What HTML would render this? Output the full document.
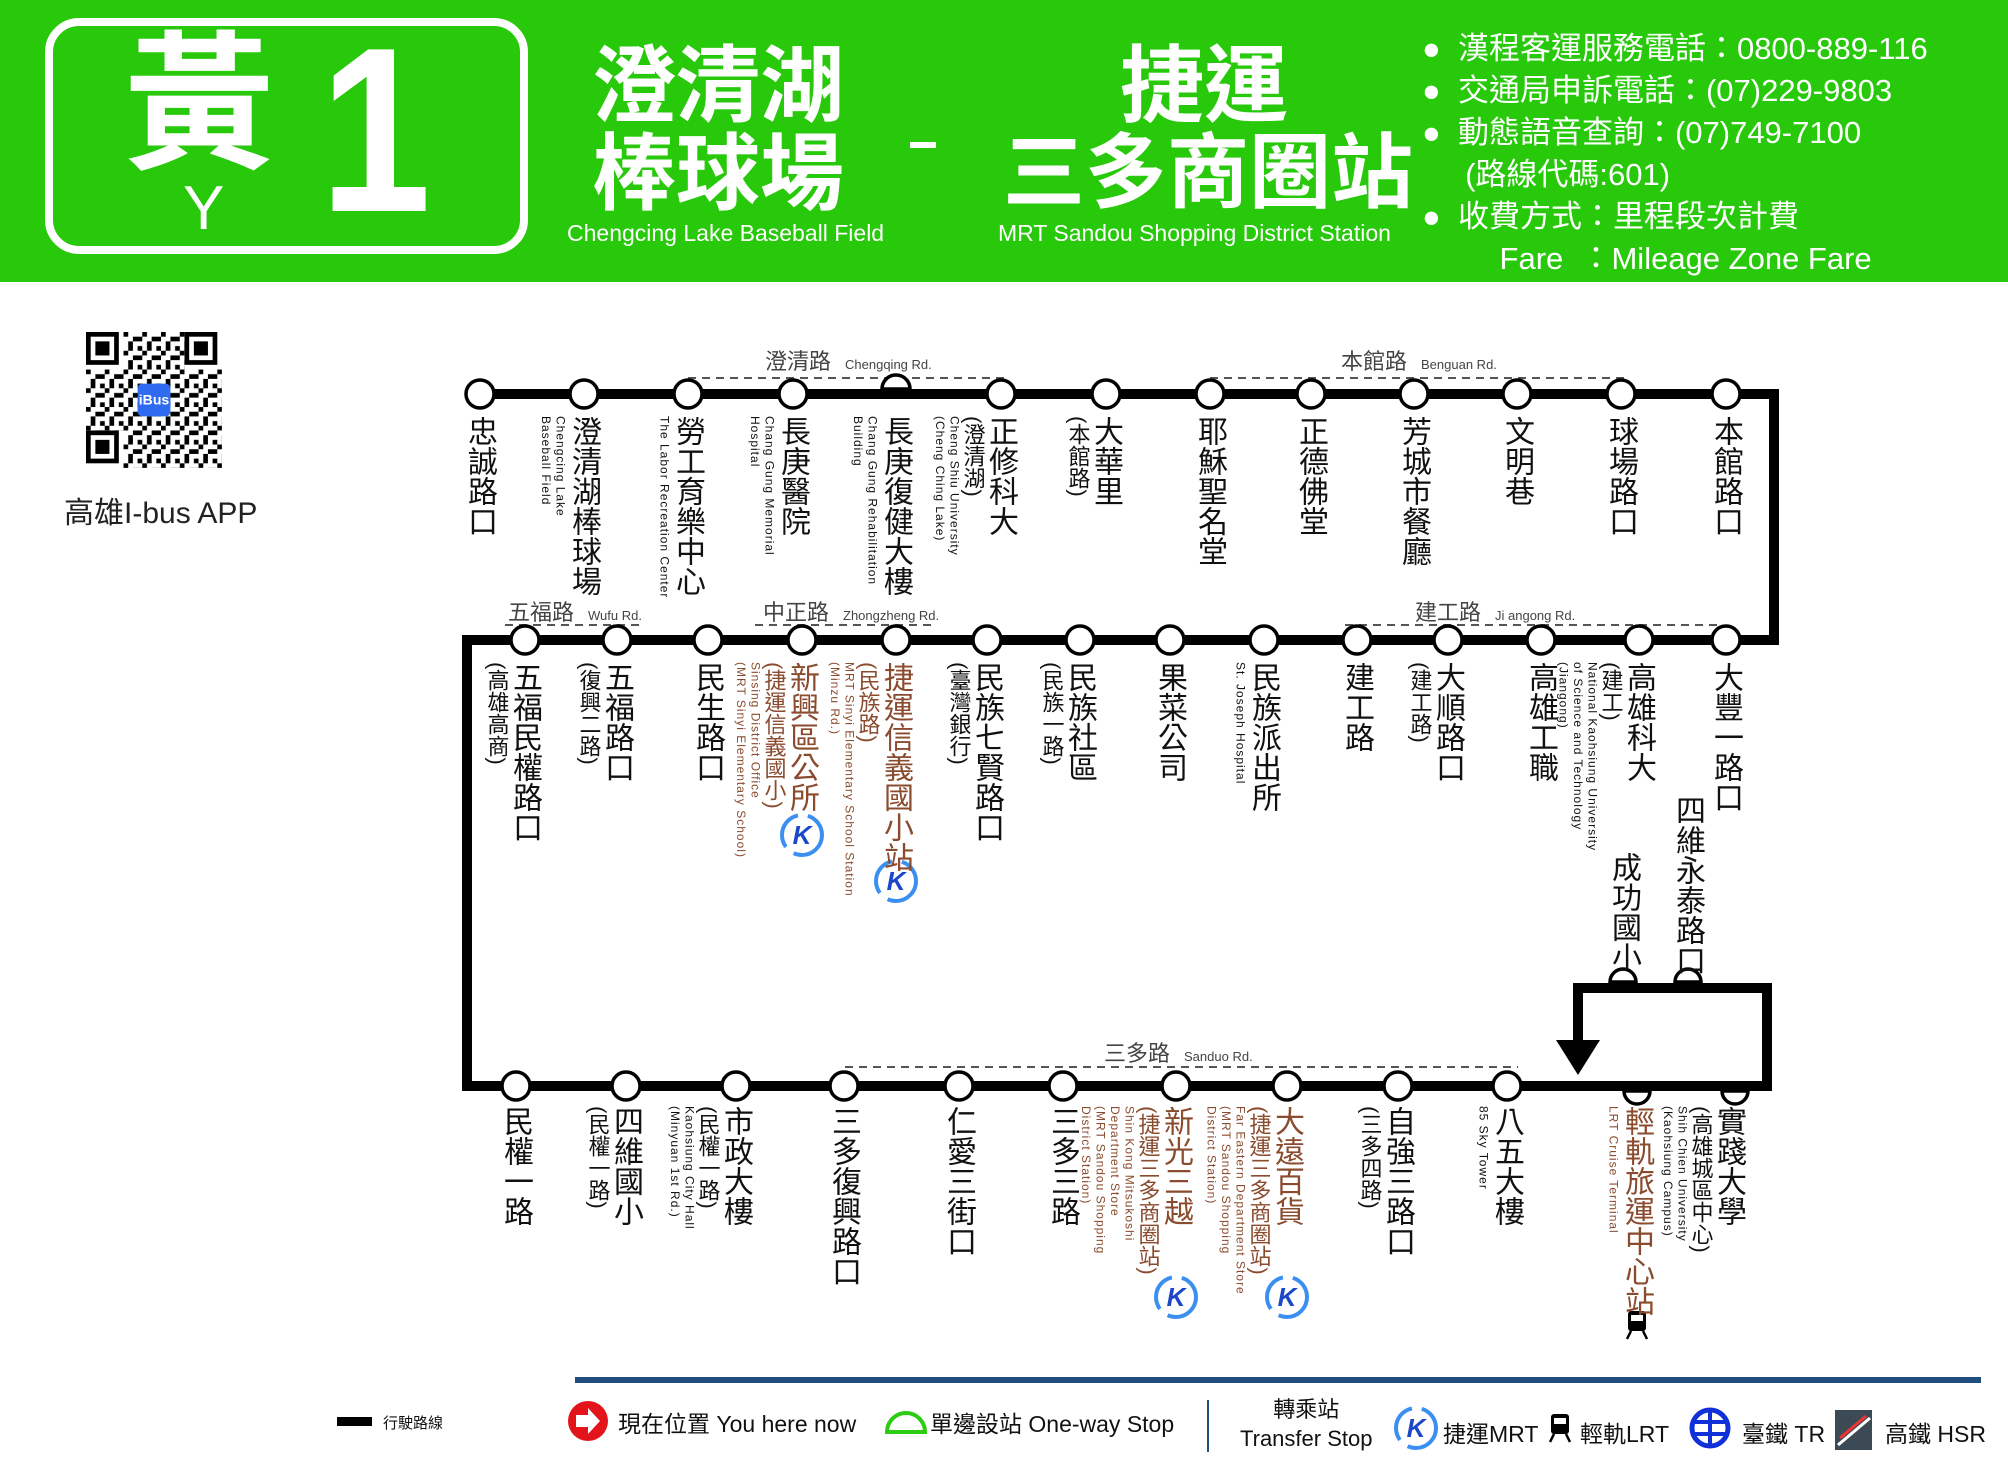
<!DOCTYPE html>
<html><head><meta charset="utf-8">
<style>
*{margin:0;padding:0;box-sizing:border-box}
body{width:2008px;height:1476px;background:#fff;position:relative;overflow:hidden;font-family:"Liberation Sans","Noto Sans CJK TC",sans-serif;color:#111}
.a{position:absolute;white-space:nowrap}
.v{position:absolute;writing-mode:vertical-rl;transform:translateX(-100%);white-space:nowrap;display:block}
.v>div{display:block;line-height:1.05}
.m{font-size:30px}
.s{font-size:22px}
.e{font-size:12px;letter-spacing:1px;line-height:1.2!important}
.br{color:#8a4b2e}
.rd{font-size:22px;color:#444}
.rd small{font-size:13px;margin-left:14px}
</style></head><body>
<!-- header -->
<div class="a" style="left:0;top:0;width:2008px;height:282px;background:#27c90a"></div>
<div class="a" style="left:45px;top:18px;width:483px;height:236px;border:8px solid #fff;border-radius:34px"></div>
<div class="a" style="left:124px;top:30px;font-size:150px;font-weight:bold;color:#fff;line-height:1">黃</div>
<div class="a" style="left:183px;top:178px;font-size:62px;color:#fff;line-height:1">Y</div>
<div class="a" style="left:320px;top:12px;font-size:235px;font-weight:bold;color:#fff;line-height:1;font-family:'Liberation Sans',sans-serif;transform:scaleX(0.85);transform-origin:left top">1</div>
<div class="a" style="left:592px;top:42px;font-size:84px;font-weight:bold;color:#fff;line-height:88px">澄清湖<br>棒球場</div>
<div class="a" style="left:567px;top:220px;font-size:23px;color:#fff">Chengcing Lake Baseball Field</div>
<div class="a" style="left:910px;top:142px;width:26px;height:6px;background:#fff"></div>
<div class="a" style="left:1120px;top:42px;font-size:84px;font-weight:bold;color:#fff;line-height:88px">捷運</div>
<div class="a" style="left:1003px;top:130px;font-size:82px;font-weight:bold;color:#fff;line-height:88px">三多商圈站</div>
<div class="a" style="left:998px;top:220px;font-size:23px;color:#fff">MRT Sandou Shopping District Station</div>
<div class="a" style="left:1422px;top:28px;font-size:31px;color:#fff;line-height:42px">
●&nbsp;&nbsp;漢程客運服務電話：0800-889-116<br>●&nbsp;&nbsp;交通局申訴電話：(07)229-9803<br>●&nbsp;&nbsp;動態語音查詢：(07)749-7100<br>&nbsp;&nbsp;&nbsp;&nbsp;&nbsp;(路線代碼:601)<br>●&nbsp;&nbsp;收費方式：里程段次計費<br>&nbsp;&nbsp;&nbsp;&nbsp;&nbsp;&nbsp;&nbsp;&nbsp;&nbsp;Fare &nbsp;：Mileage Zone Fare</div>

<!-- QR -->
<svg class="a" style="left:83px;top:332px" width="142" height="136" viewBox="0 0 29 29">
<defs><pattern id="q" width="4" height="4" patternUnits="userSpaceOnUse"><rect width="1" height="1"/><rect x="2" y="1" width="2" height="1"/><rect x="1" y="2" width="1" height="2"/><rect x="3" y="3" width="1" height="1"/></pattern></defs>
<rect width="29" height="29" fill="url(#q)"/>
<g fill="#fff"><rect width="8" height="8"/><rect x="21" width="8" height="8"/><rect y="21" width="8" height="8"/></g>
<g fill="none" stroke="#000"><rect x=".5" y=".5" width="6" height="6"/><rect x="21.5" y=".5" width="6" height="6"/><rect x=".5" y="21.5" width="6" height="6"/></g>
<g><rect x="2" y="2" width="3" height="3"/><rect x="23" y="2" width="3" height="3"/><rect x="2" y="23" width="3" height="3"/></g>
<rect x="11" y="11" width="7" height="7" rx="1" fill="#2f6bf0"/><text x="14.5" y="15.5" font-size="3" fill="#fff" text-anchor="middle" font-weight="bold">iBus</text>
</svg>
<div class="a" style="left:64px;top:488px;font-size:30px;color:#222">高雄I-bus APP</div>

<!-- route lines -->
<svg class="a" style="left:0;top:0" width="2008" height="1476">
<defs>
<g id="k">
<circle cx="0" cy="0" r="20" fill="none" stroke="#3a8ff0" stroke-width="4" stroke-dasharray="40,10"/>
<text x="0" y="9" font-size="26" font-weight="bold" font-style="italic" fill="#1b47c8" text-anchor="middle" font-family="Liberation Sans">K</text>
</g>
<g id="t"><rect x="-9" y="-14" width="18" height="20" rx="3" fill="#000"/><rect x="-6" y="-10" width="12" height="6" fill="#fff"/><line x1="-6" y1="6" x2="-10" y2="14" stroke="#000" stroke-width="2.5"/><line x1="6" y1="6" x2="10" y2="14" stroke="#000" stroke-width="2.5"/></g>
</defs>
<g fill="none" stroke="#000" stroke-width="10">
<polyline points="480,394 1774,394 1774,640 467,640 467,1086 1767,1086 1767,988 1578,988 1578,1045"/>
</g>
<polygon points="1556,1040 1600,1040 1578,1075" fill="#000"/>
<g stroke="#555" stroke-width="2" stroke-dasharray="8,6">
<line x1="688" y1="378" x2="1005" y2="378"/><line x1="1210" y1="378" x2="1626" y2="378"/>
<line x1="505" y1="625" x2="640" y2="625"/><line x1="755" y1="625" x2="935" y2="625"/><line x1="1345" y1="625" x2="1722" y2="625"/>
<line x1="845" y1="1067" x2="1518" y2="1067"/>
</g>
<g fill="#fff" stroke="#000" stroke-width="3.5">
<circle cx="480" cy="394" r="14"/><circle cx="584" cy="394" r="14"/><circle cx="688" cy="394" r="14"/><circle cx="793" cy="394" r="14"/><circle cx="1001" cy="394" r="14"/><circle cx="1106" cy="394" r="14"/><circle cx="1210" cy="394" r="14"/><circle cx="1311" cy="394" r="14"/><circle cx="1414" cy="394" r="14"/><circle cx="1517" cy="394" r="14"/><circle cx="1621" cy="394" r="14"/><circle cx="1726" cy="394" r="14"/>
<path d="M882,389 A14,14 0 0 1 910,389 Z"/>
<circle cx="525" cy="640" r="14"/><circle cx="617" cy="640" r="14"/><circle cx="708" cy="640" r="14"/><circle cx="802" cy="640" r="14"/><circle cx="896" cy="640" r="14"/><circle cx="987" cy="640" r="14"/><circle cx="1080" cy="640" r="14"/><circle cx="1170" cy="640" r="14"/><circle cx="1264" cy="640" r="14"/><circle cx="1357" cy="640" r="14"/><circle cx="1448" cy="640" r="14"/><circle cx="1541" cy="640" r="14"/><circle cx="1639" cy="640" r="14"/><circle cx="1726" cy="640" r="14"/>
<circle cx="516" cy="1086" r="14"/><circle cx="626" cy="1086" r="14"/><circle cx="736" cy="1086" r="14"/><circle cx="844" cy="1086" r="14"/><circle cx="959" cy="1086" r="14"/><circle cx="1063" cy="1086" r="14"/><circle cx="1176" cy="1086" r="14"/><circle cx="1287" cy="1086" r="14"/><circle cx="1398" cy="1086" r="14"/><circle cx="1507" cy="1086" r="14"/>
<path d="M1610,982 A13,13 0 0 1 1636,982 Z"/><path d="M1675,982 A13,13 0 0 1 1701,982 Z"/>
<path d="M1624,1091 A13,13 0 0 0 1650,1091 Z"/><path d="M1722,1091 A13,13 0 0 0 1748,1091 Z"/>
</g>
<use href="#k" x="802" y="835"/><use href="#k" x="896" y="881"/><use href="#k" x="1176" y="1297"/><use href="#k" x="1287" y="1297"/>
<use href="#t" x="1637" y="1325"/>
<!-- legend -->
<line x1="575" y1="1380" x2="1981" y2="1380" stroke="#1f4e7e" stroke-width="6"/>
<rect x="337" y="1417" width="35" height="9" fill="#000"/>
<circle cx="588" cy="1421" r="20" fill="#e3141b"/><polygon points="576,1415 588,1415 588,1408 600,1421 588,1434 588,1427 576,1427" fill="#fff"/>
<path d="M887,1432 A19,19 0 0 1 925,1432 Z" fill="none" stroke="#2ccc10" stroke-width="4"/>
<line x1="1208" y1="1400" x2="1208" y2="1452" stroke="#1f4e7e" stroke-width="2"/>
<use href="#k" x="1416" y="1428"/>
<use href="#t" x="1560" y="1428"/>
<circle cx="1710" cy="1428" r="18" fill="none" stroke="#1030d8" stroke-width="5"/><path d="M1694,1422 H1726 M1694,1434 H1726 M1710,1412 V1446" stroke="#1030d8" stroke-width="4"/>
<rect x="1835" y="1410" width="37" height="40" fill="#3b4a55"/><path d="M1838,1445 L1870,1418" stroke="#fff" stroke-width="3"/><path d="M1840,1438 L1866,1416" stroke="#e33" stroke-width="3"/>
</svg>
<div class="a" style="left:383px;top:1412px;font-size:15px">行駛路線</div>
<div class="a" style="left:618px;top:1405px;font-size:23px">現在位置 You here now</div>
<div class="a" style="left:930px;top:1405px;font-size:23px">單邊設站 One-way Stop</div>
<div class="a" style="left:1240px;top:1395px;font-size:22px;text-align:center;line-height:29px">轉乘站<br>Transfer Stop</div>
<div class="a" style="left:1443px;top:1415px;font-size:23px">捷運MRT</div>
<div class="a" style="left:1580px;top:1415px;font-size:23px">輕軌LRT</div>
<div class="a" style="left:1742px;top:1415px;font-size:23px">臺鐵 TR</div>
<div class="a" style="left:1885px;top:1415px;font-size:23px">高鐵 HSR</div>

<!-- road labels -->
<div class="a rd" style="left:765px;top:344px">澄清路<small>Chengqing Rd.</small></div>
<div class="a rd" style="left:1341px;top:344px">本館路<small>Benguan Rd.</small></div>
<div class="a rd" style="left:508px;top:595px">五福路<small>Wufu Rd.</small></div>
<div class="a rd" style="left:763px;top:595px">中正路<small>Zhongzheng Rd.</small></div>
<div class="a rd" style="left:1415px;top:595px">建工路<small>Ji angong Rd.</small></div>
<div class="a rd" style="left:1104px;top:1036px">三多路<small>Sanduo Rd.</small></div>

<!-- row1 -->
<div class="v" style="left:495px;top:416px"><div class="m">忠誠路口</div></div>
<div class="v" style="left:599px;top:416px"><div class="m">澄清湖棒球場</div><div class="e">Chengcing Lake<br>Baseball Field</div></div>
<div class="v" style="left:703px;top:416px"><div class="m">勞工育樂中心</div><div class="e">The Labor Recreation Center</div></div>
<div class="v" style="left:808px;top:416px"><div class="m">長庚醫院</div><div class="e">Chang Gung Memorial<br>Hospital</div></div>
<div class="v" style="left:911px;top:416px"><div class="m">長庚復健大樓</div><div class="e">Chang Gung Rehabilitation<br>Building</div></div>
<div class="v" style="left:1016px;top:416px"><div class="m">正修科大</div><div class="s">(澄清湖)</div><div class="e">Cheng Shiu University<br>(Cheng Ching Lake)</div></div>
<div class="v" style="left:1121px;top:416px"><div class="m">大華里</div><div class="s">(本館路)</div></div>
<div class="v" style="left:1225px;top:416px"><div class="m">耶穌聖名堂</div></div>
<div class="v" style="left:1326px;top:416px"><div class="m">正德佛堂</div></div>
<div class="v" style="left:1429px;top:416px"><div class="m">芳城市餐廳</div></div>
<div class="v" style="left:1532px;top:416px"><div class="m">文明巷</div></div>
<div class="v" style="left:1636px;top:416px"><div class="m">球場路口</div></div>
<div class="v" style="left:1741px;top:416px"><div class="m">本館路口</div></div>

<!-- row2 -->
<div class="v" style="left:540px;top:662px"><div class="m">五福民權路口</div><div class="s">(高雄高商)</div></div>
<div class="v" style="left:632px;top:662px"><div class="m">五福路口</div><div class="s">(復興二路)</div></div>
<div class="v" style="left:723px;top:662px"><div class="m">民生路口</div></div>
<div class="v br" style="left:817px;top:662px"><div class="m">新興區公所</div><div class="s">(捷運信義國小)</div><div class="e">Sinsing District Office<br>(MRT Sinyi Elementary School)</div></div>
<div class="v br" style="left:911px;top:662px"><div class="m">捷運信義國小站</div><div class="s">(民族路)</div><div class="e">MRT Sinyi Elementary School Station<br>(Minzu Rd.)</div></div>
<div class="v" style="left:1002px;top:662px"><div class="m">民族七賢路口</div><div class="s">(臺灣銀行)</div></div>
<div class="v" style="left:1095px;top:662px"><div class="m">民族社區</div><div class="s">(民族一路)</div></div>
<div class="v" style="left:1185px;top:662px"><div class="m">果菜公司</div></div>
<div class="v" style="left:1279px;top:662px"><div class="m">民族派出所</div><div class="e">St. Joseph Hospital</div></div>
<div class="v" style="left:1372px;top:662px"><div class="m">建工路</div></div>
<div class="v" style="left:1463px;top:662px"><div class="m">大順路口</div><div class="s">(建工路)</div></div>
<div class="v" style="left:1556px;top:662px"><div class="m">高雄工職</div></div>
<div class="v" style="left:1654px;top:662px"><div class="m">高雄科大</div><div class="s">(建工)</div><div class="e">National Kaohsiung University<br>of Science and Technology<br>(Jiangong)</div></div>
<div class="v" style="left:1741px;top:662px"><div class="m">大豐一路口</div></div>
<div class="v" style="left:1703px;top:795px"><div class="m">四維永泰路口</div></div>
<div class="v" style="left:1639px;top:852px"><div class="m">成功國小</div></div>

<!-- row3 -->
<div class="v" style="left:531px;top:1106px"><div class="m">民權一路</div></div>
<div class="v" style="left:641px;top:1106px"><div class="m">四維國小</div><div class="s">(民權一路)</div></div>
<div class="v" style="left:751px;top:1106px"><div class="m">市政大樓</div><div class="s">(民權一路)</div><div class="e">Kaohsiung City Hall<br>(Minyuan 1st Rd.)</div></div>
<div class="v" style="left:859px;top:1106px"><div class="m">三多復興路口</div></div>
<div class="v" style="left:974px;top:1106px"><div class="m">仁愛三街口</div></div>
<div class="v" style="left:1078px;top:1106px"><div class="m">三多三路</div></div>
<div class="v br" style="left:1191px;top:1106px"><div class="m">新光三越</div><div class="s">(捷運三多商圈站)</div><div class="e">Shin Kong Mitsukoshi<br>Department Store<br>(MRT Sandou Shopping<br>District Station)</div></div>
<div class="v br" style="left:1302px;top:1106px"><div class="m">大遠百貨</div><div class="s">(捷運三多商圈站)</div><div class="e">Far Eastern Department Store<br>(MRT Sandou Shopping<br>District Station)</div></div>
<div class="v" style="left:1413px;top:1106px"><div class="m">自強三路口</div><div class="s">(三多四路)</div></div>
<div class="v" style="left:1522px;top:1106px"><div class="m">八五大樓</div><div class="e">85 Sky Tower</div></div>
<div class="v br" style="left:1652px;top:1106px"><div class="m">輕軌旅運中心站</div><div class="e">LRT Cruise Terminal</div></div>
<div class="v" style="left:1744px;top:1106px"><div class="m">實踐大學</div><div class="s">(高雄城區中心)</div><div class="e">Shih Chien University<br>(Kaohsiung Campus)</div></div>
</body></html>
